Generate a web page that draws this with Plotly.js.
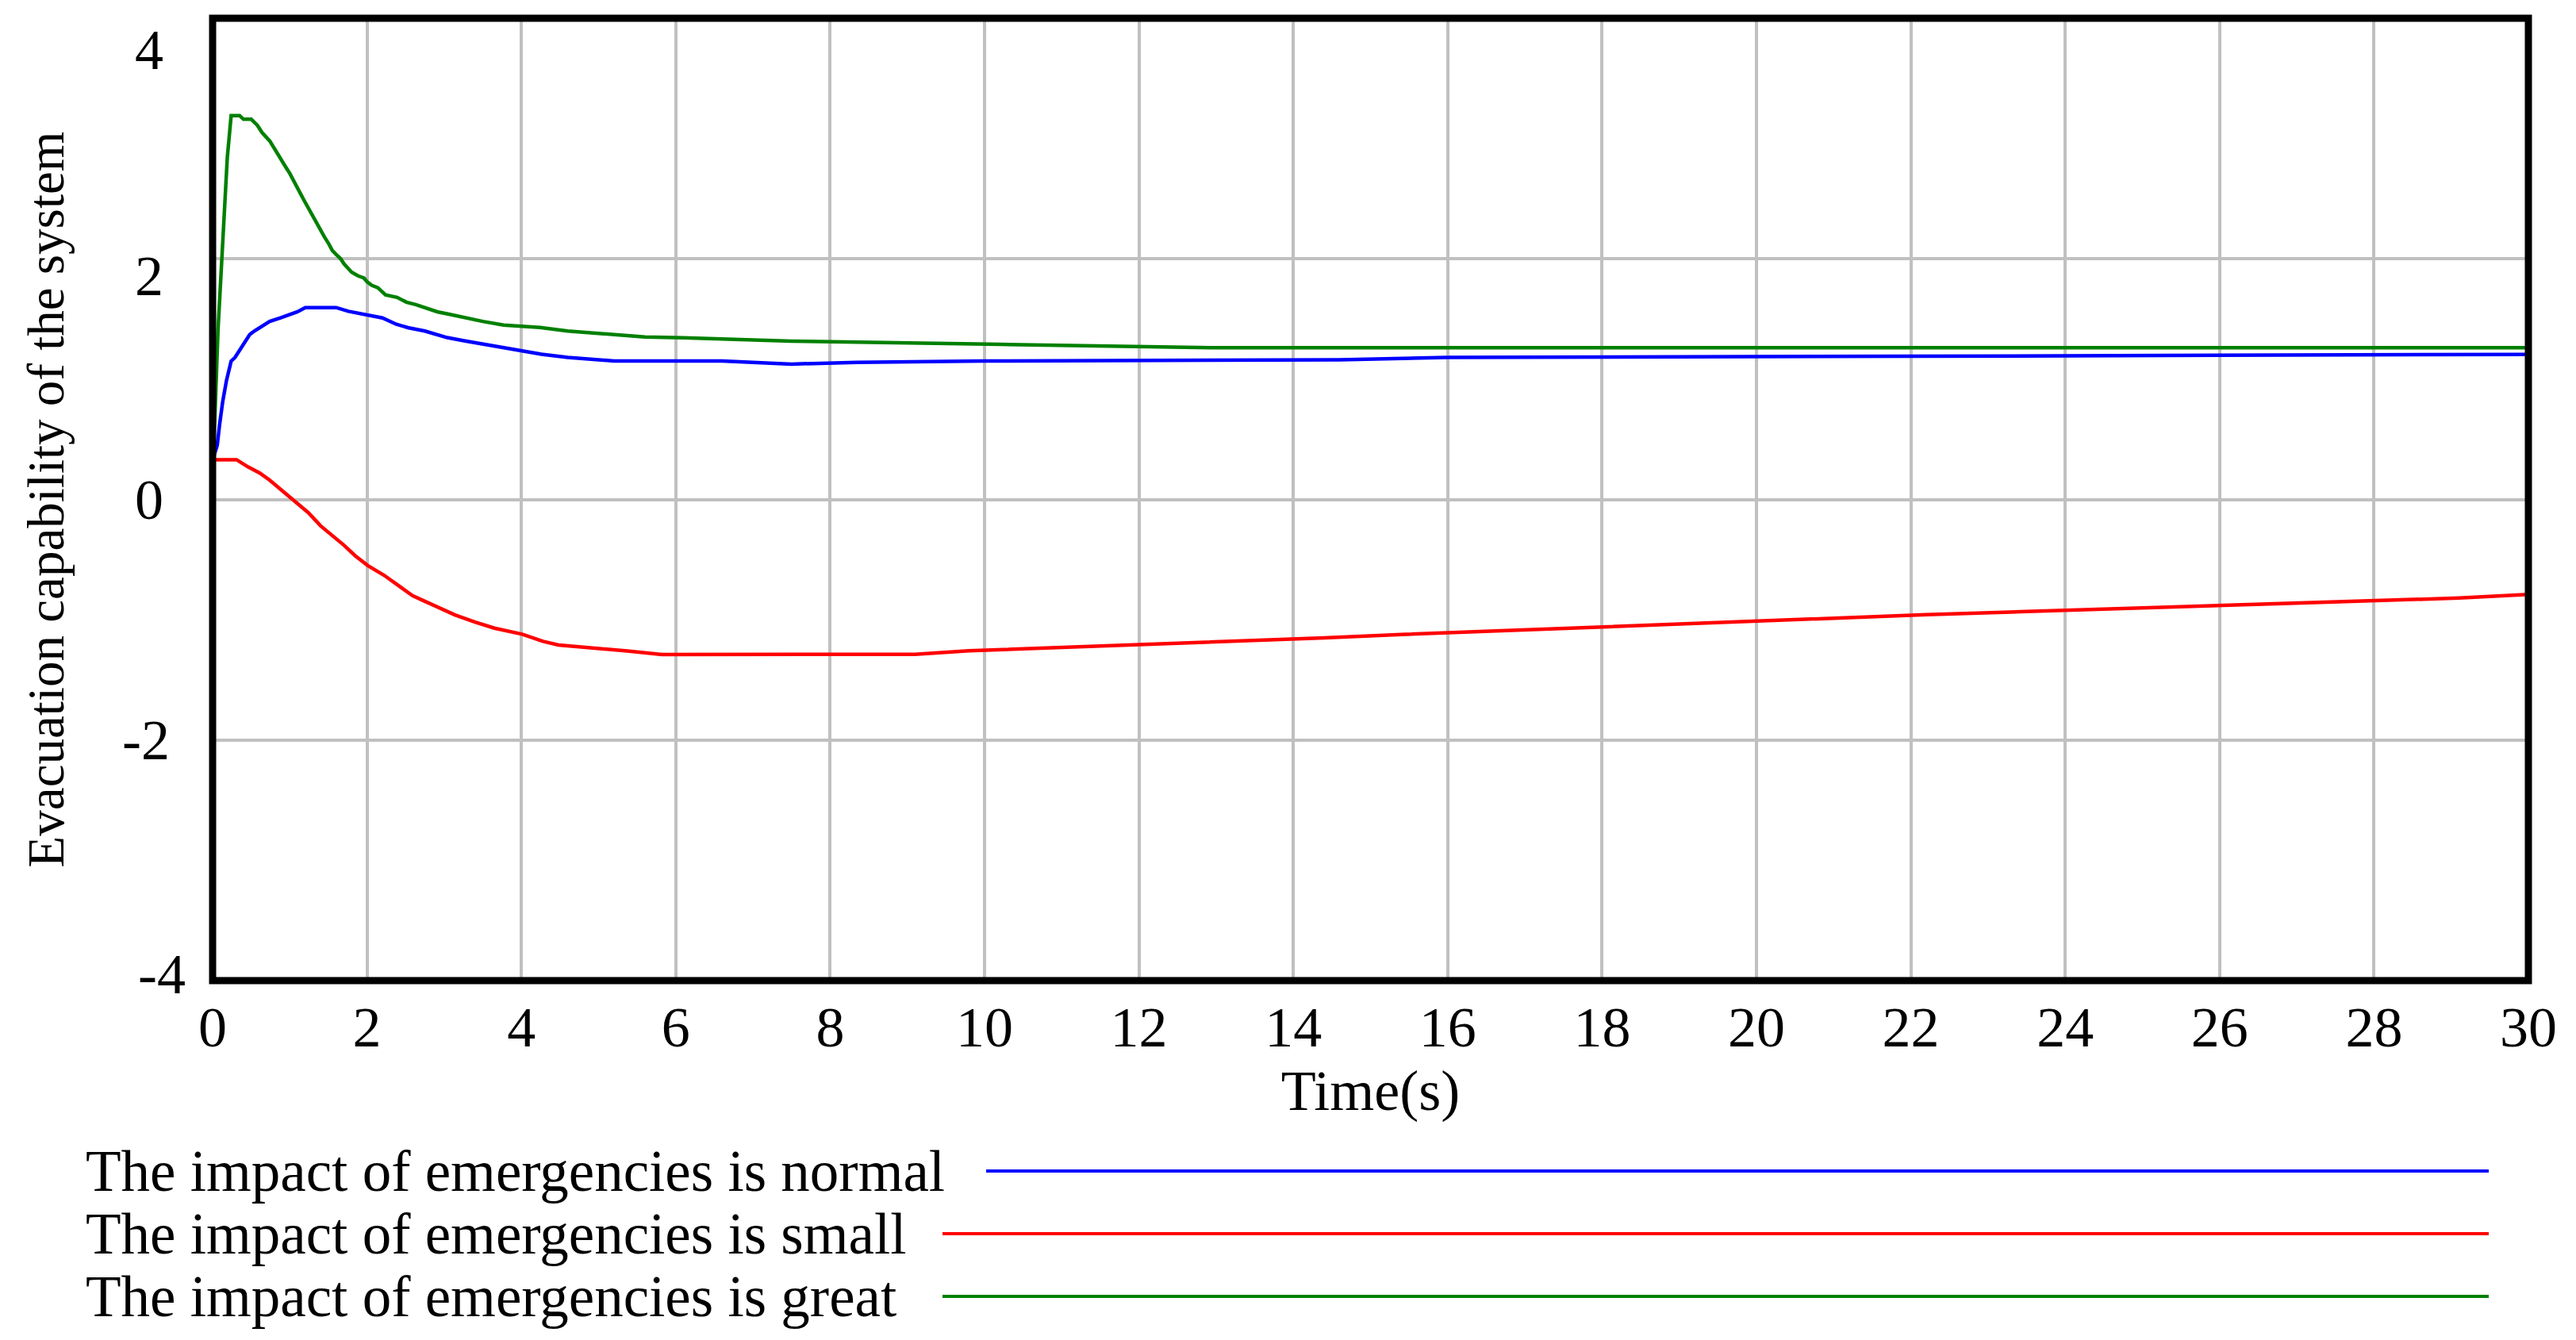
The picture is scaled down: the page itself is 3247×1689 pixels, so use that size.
<!DOCTYPE html>
<html>
<head>
<meta charset="utf-8">
<script src="https://cdn.plot.ly/plotly-3.0.1.min.js"></script>
<style>html,body{margin:0;padding:0;background:#fff;}#chart{width:3247px;height:1689px;}</style>
</head>
<body>
<div id="chart"></div>
<script>
// ---- Data ----
const seriesNames = [
  "The impact of emergencies is normal",
  "The impact of emergencies is small",
  "The impact of emergencies is great"
];
const seriesColors = ["#0000ff", "#ff0000", "#008000"];

const timeNormal = [0, 0.06, 0.09, 0.13, 0.18, 0.24, 0.29, 0.34, 0.39, 0.43, 0.48, 0.54, 0.62, 0.74, 0.88, 1.0, 1.1, 1.2, 1.6, 1.76, 1.98, 2.2, 2.38, 2.53, 2.75, 2.9, 3.04, 3.27, 3.52, 3.78, 4.04, 4.26, 4.6, 5.2, 6.6, 7.5, 8.35, 10, 14.6, 16, 21.9, 30];
const valuesNormal = [0.33, 0.45, 0.62, 0.81, 0.99, 1.15, 1.18, 1.23, 1.28, 1.33, 1.37, 1.40, 1.43, 1.48, 1.51, 1.54, 1.56, 1.595, 1.595, 1.564, 1.536, 1.509, 1.456, 1.428, 1.40, 1.373, 1.345, 1.317, 1.29, 1.262, 1.234, 1.207, 1.181, 1.151, 1.151, 1.125, 1.14, 1.151, 1.16, 1.18, 1.19, 1.206];

const timeSmall = [0, 0.31, 0.46, 0.61, 0.74, 0.89, 1.05, 1.24, 1.40, 1.55, 1.70, 1.85, 2.01, 2.22, 2.39, 2.59, 2.76, 2.94, 3.14, 3.40, 3.65, 4.01, 4.28, 4.48, 4.87, 5.37, 5.82, 9.1, 9.8, 11.0, 12.1, 13.3, 14.4, 15.4, 16.5, 17.6, 18.7, 19.9, 21.0, 22.2, 23.5, 24.9, 26.2, 27.6, 29.1, 30];
const valuesSmall = [0.33, 0.33, 0.27, 0.22, 0.16, 0.08, 0.0, -0.11, -0.22, -0.30, -0.38, -0.47, -0.55, -0.63, -0.71, -0.80, -0.85, -0.90, -0.96, -1.02, -1.07, -1.12, -1.18, -1.21, -1.23, -1.26, -1.29, -1.287, -1.258, -1.232, -1.206, -1.178, -1.151, -1.123, -1.096, -1.068, -1.042, -1.013, -0.987, -0.958, -0.932, -0.904, -0.877, -0.849, -0.82, -0.79];

const timeGreat = [0, 0.03, 0.07, 0.13, 0.19, 0.24, 0.35, 0.40, 0.5, 0.58, 0.64, 0.74, 0.84, 0.9, 0.95, 1.0, 1.09, 1.14, 1.19, 1.25, 1.3, 1.35, 1.4, 1.45, 1.5, 1.55, 1.61, 1.66, 1.7, 1.76, 1.8, 1.88, 1.96, 2.0, 2.06, 2.14, 2.24, 2.39, 2.51, 2.63, 2.77, 2.91, 3.06, 3.26, 3.5, 3.77, 4.24, 4.6, 5.23, 5.6, 6.1, 7.5, 10.2, 13, 30];
const valuesGreat = [0.33, 0.70, 1.41, 2.13, 2.84, 3.19, 3.19, 3.16, 3.16, 3.11, 3.05, 2.98, 2.87, 2.81, 2.76, 2.71, 2.59, 2.54, 2.48, 2.41, 2.34, 2.29, 2.23, 2.18, 2.13, 2.07, 2.03, 2.0, 1.96, 1.92, 1.89, 1.86, 1.84, 1.81, 1.78, 1.76, 1.70, 1.68, 1.64, 1.62, 1.59, 1.56, 1.54, 1.51, 1.48, 1.45, 1.43, 1.40, 1.37, 1.35, 1.344, 1.316, 1.289, 1.261, 1.261];

const xTickVals = [0,2,4,6,8,10,12,14,16,18,20,22,24,26,28,30];
const yTickVals = [-4,-2,0,2,4];
const xTitle = "Time(s)";
const yTitle = "Evacuation capability of the system";

// ---- Layout ----
const W = 3247, H = 1689;
const L = 268, R = 3187, T = 23, B = 1236;
const FONT = "Liberation Serif, Times New Roman, serif";
const FS = 72;

const px2x = p => (p - L) / (R - L);
const py2y = p => (B - p) / (B - T);

const traces = [
  {x: timeNormal, y: valuesNormal},
  {x: timeSmall, y: valuesSmall},
  {x: timeGreat, y: valuesGreat}
].map((d, i) => ({
  x: d.x, y: d.y, type: "scatter", mode: "lines", name: seriesNames[i],
  line: {color: seriesColors[i], width: 4.5}, showlegend: false
}));

// Y tick labels: placed on the y scale, nudged as in the reference (labels kept inside the frame height)
const yLabelShiftDown = {"-4": -8, "-2": 0, "0": 0, "2": 22, "4": 40};
const yLabelRightEdge = {"-4": 236, "-2": 216, "0": 208, "2": 208, "4": 208};
const yLabelAnnotations = yTickVals.map(v => ({
  text: String(v), xref: "paper", yref: "y", x: px2x(yLabelRightEdge[String(v)]), y: v,
  xanchor: "right", yanchor: "middle", yshift: -yLabelShiftDown[String(v)],
  showarrow: false, font: {family: FONT, size: FS, color: "#000"}
}));

// Legend rows drawn below the chart (text + long sample line)
const legendRowsY = [1476, 1555, 1634];
const legendLineStart = [1243, 1188, 1188];
const legendLineEnd = 3137;
const legendAnnotations = seriesNames.map((n, i) => ({
  text: n, xref: "paper", yref: "paper", x: px2x(106), y: py2y(legendRowsY[i]),
  xanchor: "left", yanchor: "middle", showarrow: false,
  font: {family: FONT, size: 73, color: "#000"}
}));
const shapes = seriesNames.map((n, i) => ({
  type: "line", xref: "paper", yref: "paper",
  x0: px2x(legendLineStart[i]), x1: px2x(legendLineEnd),
  y0: py2y(legendRowsY[i]), y1: py2y(legendRowsY[i]),
  line: {color: seriesColors[i], width: 4}
}));
shapes.push({type: "rect", xref: "paper", yref: "paper", x0: 0, x1: 1, y0: 0, y1: 1,
  line: {color: "#000", width: 9}, layer: "above"});

const layout = {
  width: W, height: H,
  margin: {l: L, r: W - R, t: T, b: H - B, pad: 0},
  paper_bgcolor: "#fff", plot_bgcolor: "#fff",
  showlegend: false,
  font: {family: FONT, size: FS, color: "#000"},
  xaxis: {
    range: [0, 30], tickvals: xTickVals, ticktext: xTickVals.map(String),
    showgrid: true, gridcolor: "#c0c0c0", gridwidth: 4, zeroline: false,
    showline: false, ticks: "", ticklabelstandoff: 10,
    tickfont: {family: FONT, size: FS, color: "#000"},
    title: {text: xTitle, font: {family: FONT, size: FS, color: "#000"}, standoff: 8},
    automargin: false, fixedrange: true
  },
  yaxis: {
    range: [-4, 4], tickvals: yTickVals, showticklabels: false,
    showgrid: true, gridcolor: "#c0c0c0", gridwidth: 4, zeroline: false,
    showline: false, ticks: "",
    title: {text: yTitle, font: {family: FONT, size: 65, color: "#000"}, standoff: 165},
    automargin: false, fixedrange: true
  },
  annotations: yLabelAnnotations.concat(legendAnnotations),
  shapes: shapes
};

Plotly.newPlot("chart", traces, layout, {staticPlot: true, displayModeBar: false});
</script>
</body>
</html>
